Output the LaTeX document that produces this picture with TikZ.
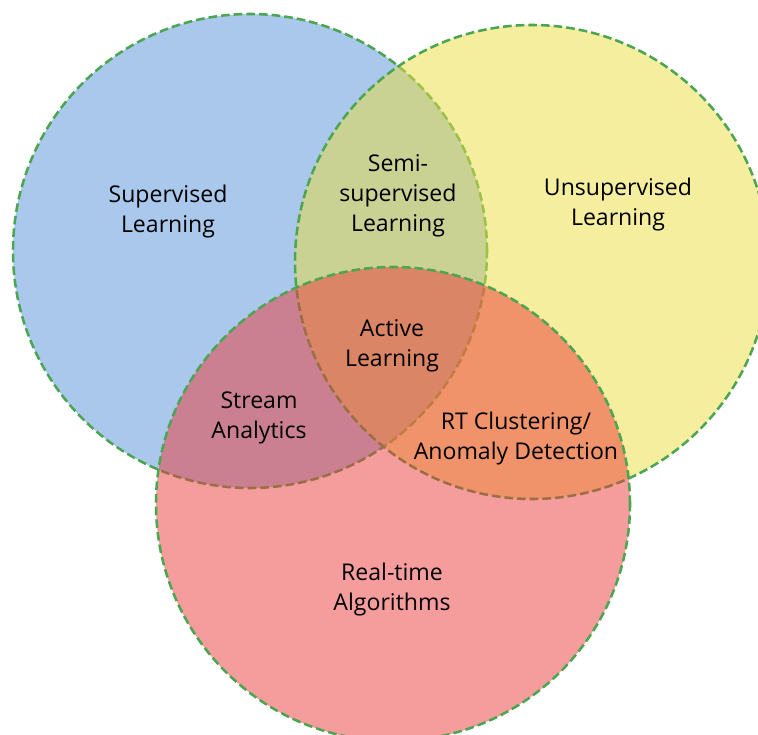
\documentclass[tikz,border=0pt]{standalone}
\usepackage{fontspec}
\setmainfont{Open Sans}
\definecolor{vblue}{RGB}{83,145,215}
\definecolor{vyellow}{RGB}{235,221,61}
\definecolor{vred}{RGB}{235,57,57}
\definecolor{vgreen}{RGB}{76,165,80}
\begin{document}
\begin{tikzpicture}[x=0.75pt,y=-0.75pt,
  setcircle/.style={circle, inner sep=0pt, minimum size=355.5pt, draw=vgreen, line width=1.9pt, dash pattern=on 6.5pt off 3pt, fill opacity=0.5},
  lbl/.style={align=center, font=\fontsize{17.3}{22.5}\selectfont, text=black, inner sep=0pt}]
\useasboundingbox (0,0) rectangle (758,735);
\clip (0,0) rectangle (758,735);
\node[setcircle, fill=vblue] (blue) at (250,251) {};
\node[setcircle, fill=vyellow] (yellow) at (532,262) {};
\node[setcircle, fill=vred] (red) at (393,504) {};
\node[lbl] (sup) at (168,212) {Supervised\\Learning};
\node[lbl] (semi) at (398,196) {Semi-\\supervised\\Learning};
\node[lbl] (unsup) at (618,205) {Unsupervised\\Learning};
\node[lbl] (active) at (392,346) {Active\\Learning};
\node[lbl] (stream) at (259,418) {Stream\\Analytics};
\node[lbl] (rt) at (516,439) {RT Clustering/\\Anomaly Detection};
\node[lbl] (realtime) at (392,590) {Real-time\\Algorithms};
\end{tikzpicture}
\end{document}
